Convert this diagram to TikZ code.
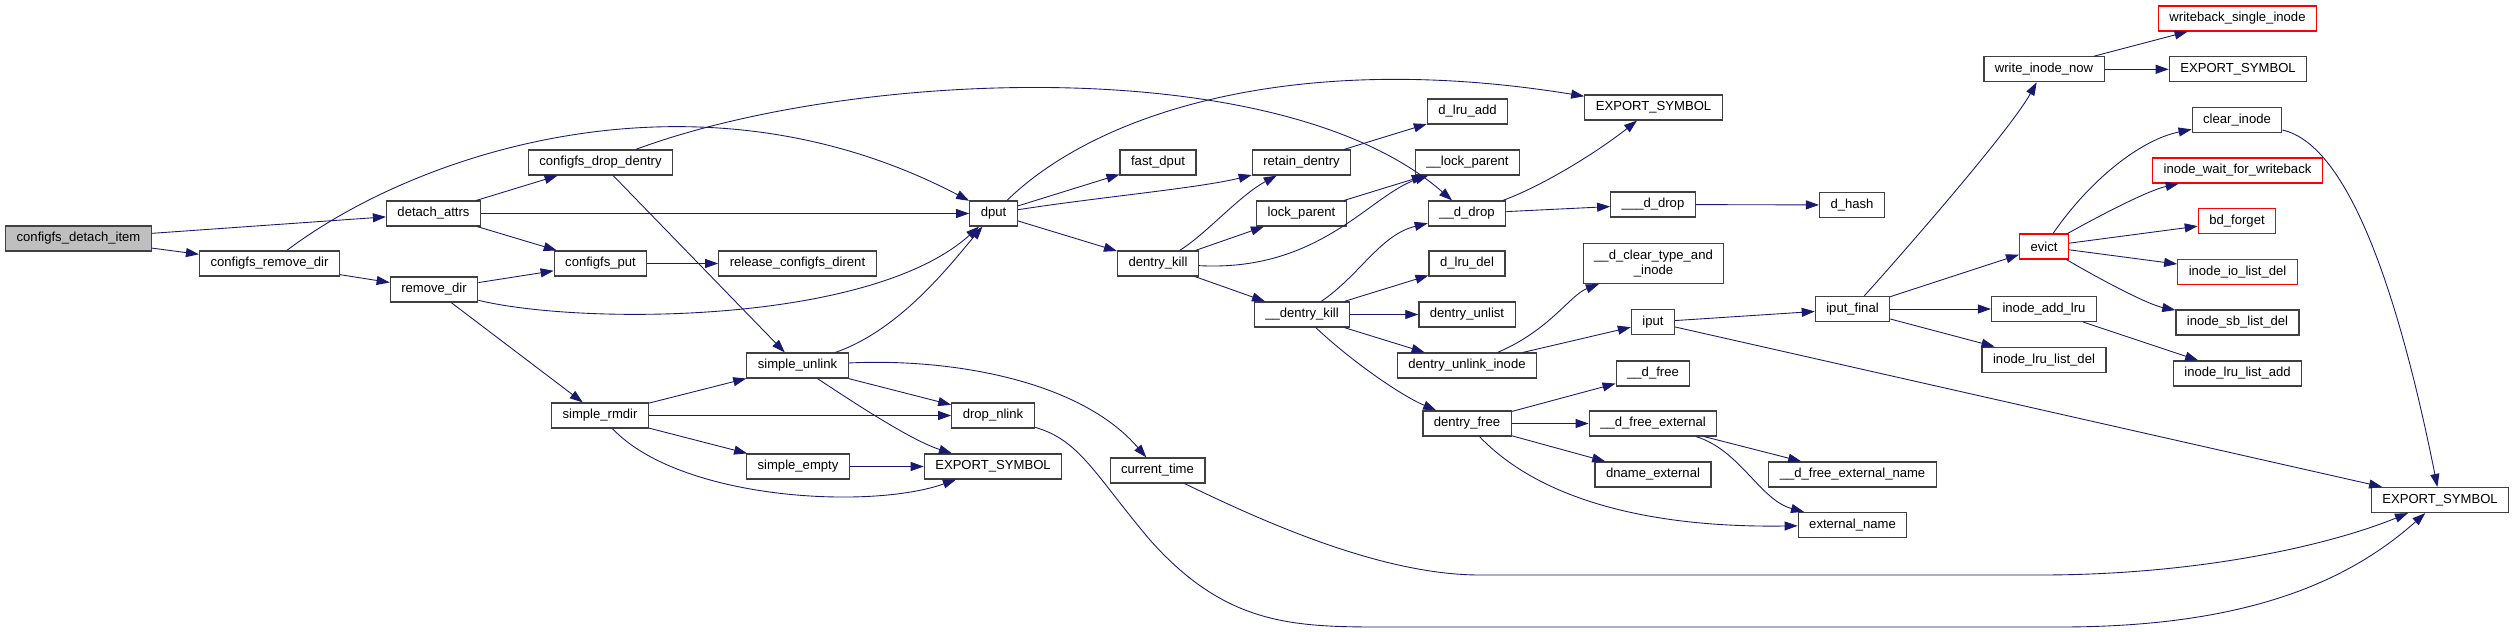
\documentclass[tikz,border=0pt]{standalone}
\usepackage{fontspec}
\setmainfont{Liberation Sans}
\usetikzlibrary{arrows.meta}
\definecolor{edgeblue}{RGB}{25,25,112}
\definecolor{boxgray}{RGB}{64,64,64}
\definecolor{rootfill}{RGB}{191,191,191}

\begin{document}
\begin{tikzpicture}[
  x=0.02cm,
  y=-0.02cm,
  font=\fontsize{7.45}{8.6}\selectfont,
  fn/.style={
    rectangle,
    draw=boxgray,
    fill=white,
    line width=0.7pt,
    inner xsep=0.22cm,
    inner ysep=0pt,
    minimum height=0.5cm
  },
  fnroot/.style={fn, fill=rootfill},
  fnext/.style={fn, draw=red},
  call/.style={
    draw=edgeblue,
    line width=0.5pt,
    -{Triangle[length=0.26cm,width=0.18cm]}
  }
]

\path[fill=white] (0,0) rectangle (2515,632);

% ---------------------------------------------------------------------------
% configfs side
% ---------------------------------------------------------------------------
\node[fnroot] (cdi)  at (78.5,238.5)  {configfs\_detach\_item};
\node[fn]     (crd)  at (269.5,263.5) {configfs\_remove\_dir};
\node[fn]     (da)   at (433.5,213.5) {detach\_attrs};
\node[fn]     (rd)   at (434,289.5)   {remove\_dir};
\node[fn]     (cdd)  at (600.5,162.5) {configfs\_drop\_dentry};
\node[fn]     (cput) at (600.5,263.5) {configfs\_put};
\node[fn]     (srm)  at (600,415.5)   {simple\_rmdir};
\node[fn]     (rcd)  at (797.5,263.5) {release\_configfs\_dirent};
\node[fn]     (sul)  at (797.5,365.5) {simple\_unlink};
\node[fn]     (sem)  at (798,466.5)   {simple\_empty};
\node[fn]     (dput) at (993.5,213.5) {dput};
\node[fn]     (dnl)  at (993,415.5)   {drop\_nlink};
\node[fn]     (es1)  at (993,466.5)   {EXPORT\_SYMBOL};

% ---------------------------------------------------------------------------
% dentry side
% ---------------------------------------------------------------------------
\node[fn] (fdp)  at (1158,162.5)   {fast\_dput};
\node[fn] (dk)   at (1158,263.5)   {dentry\_kill};
\node[fn] (ct)   at (1157.5,470.5) {current\_time};
\node[fn] (rtd)  at (1301.5,162.5) {retain\_dentry};
\node[fn] (lp)   at (1301.5,213.5) {lock\_parent};
\node[fn] (udk)  at (1302,314.5)   {\_\_dentry\_kill};
\node[fn] (dla)  at (1467.5,111.5) {d\_lru\_add};
\node[fn] (ulp)  at (1467.5,162.5) {\_\_lock\_parent};
\node[fn] (udd)  at (1467,213.5)   {\_\_d\_drop};
\node[fn] (dld)  at (1467,263.5)   {d\_lru\_del};
\node[fn] (dul)  at (1467,314.5)   {dentry\_unlist};
\node[fn] (duli) at (1467,365.5)   {dentry\_unlink\_inode};
\node[fn] (dfr)  at (1467,423.5)   {dentry\_free};
\node[fn] (es2)  at (1653.5,107.5) {EXPORT\_SYMBOL};
\node[fn] (uuud) at (1653,204.5)   {\_\_\_d\_drop};
\node[fn, align=center, minimum height=0.8cm] (dct) at (1653.5,263.5)
  {\_\_d\_clear\_type\_and\\\_inode};
\node[fn] (iput) at (1653,322)     {iput};
\node[fn] (udf)  at (1653,373.5)   {\_\_d\_free};
\node[fn] (udfe) at (1653,423.5)   {\_\_d\_free\_external};
\node[fn] (dne)  at (1653,474.5)   {dname\_external};

% ---------------------------------------------------------------------------
% inode side
% ---------------------------------------------------------------------------
\node[fn]    (dh)    at (1852,205)    {d\_hash};
\node[fn]    (ipf)   at (1852.5,309)  {iput\_final};
\node[fn]    (udfen) at (1852.5,474.5){\_\_d\_free\_external\_name};
\node[fn]    (exn)   at (1852.5,525)  {external\_name};
\node[fn]    (win)   at (2044,69.3)   {write\_inode\_now};
\node[fnext] (ev)    at (2044,246.5)  {evict};
\node[fn]    (ial)   at (2044,309)    {inode\_add\_lru};
\node[fn]    (ild)   at (2044,359.7)  {inode\_lru\_list\_del};
\node[fnext] (wsi)   at (2237.5,18.5) {writeback\_single\_inode};
\node[fn]    (es3)   at (2238,69.3)   {EXPORT\_SYMBOL};
\node[fn]    (ci)    at (2237,120)    {clear\_inode};
\node[fnext] (iwfw)  at (2237.5,170.5){inode\_wait\_for\_writeback};
\node[fnext] (bdf)   at (2237,221)    {bd\_forget};
\node[fnext] (iild)  at (2237.5,272)  {inode\_io\_list\_del};
\node[fn]    (isld)  at (2237.5,322.5){inode\_sb\_list\_del};
\node[fn]    (illa)  at (2237.5,373.5){inode\_lru\_list\_add};
\node[fn]    (es4)   at (2440,500)    {EXPORT\_SYMBOL};

% ---------------------------------------------------------------------------
% calls
% ---------------------------------------------------------------------------
\draw[call] (cdi) -- (da);
\draw[call] (cdi) -- (crd);
\draw[call] (crd) .. controls (420,150) and (700,60) .. (dput);
\draw[call] (crd) -- (rd);
\draw[call] (da) -- (cdd);
\draw[call] (da) -- (dput);
\draw[call] (da) -- (cput);
\draw[call] (rd) -- (cput);
\draw[call] (rd) .. controls (580,325) and (870,325) .. (dput);
\draw[call] (rd) -- (srm);
\draw[call] (cput) -- (rcd);
\draw[call] (cdd) .. controls (850,70) and (1280,50) .. (udd);
\draw[call] (cdd) -- (sul);
\draw[call] (srm) -- (sul);
\draw[call] (srm) -- (dnl);
\draw[call] (srm) -- (sem);
\draw[call] (srm) .. controls (680,500) and (870,510) .. (es1);
\draw[call] (sul) .. controls (900,330) and (950,265) .. (dput);
\draw[call] (sul) -- (dnl);
\draw[call] (sul) .. controls (850,400) and (910,440) .. (es1);
\draw[call] (sul) .. controls (950,358) and (1080,380) .. (ct);
\draw[call] (sem) -- (es1);
\draw[call] (dnl) .. controls (1080,440) and (1095,475) .. (1150,540)
  .. controls (1230,630) and (1300,627) .. (1400,627) -- (2060,627)
  .. controls (2250,627) and (2350,580) .. (es4);
\draw[call] (ct) .. controls (1260,520) and (1380,575) .. (1480,575)
  -- (2040,575) .. controls (2200,575) and (2330,545) .. (es4);

\draw[call] (dput) .. controls (1100,110) and (1300,50) .. (es2);
\draw[call] (dput) -- (fdp);
\draw[call] (dput) .. controls (1100,197) and (1200,188) .. (rtd);
\draw[call] (dput) -- (dk);
\draw[call] (dk) .. controls (1205,235) and (1240,195) .. (rtd);
\draw[call] (dk) -- (lp);
\draw[call] (dk) .. controls (1320,272) and (1370,195) .. (ulp);
\draw[call] (dk) -- (udk);
\draw[call] (rtd) -- (dla);
\draw[call] (lp) -- (ulp);
\draw[call] (udk) .. controls (1360,275) and (1380,235) .. (udd);
\draw[call] (udk) -- (dld);
\draw[call] (udk) -- (dul);
\draw[call] (udk) -- (duli);
\draw[call] (udk) .. controls (1350,360) and (1400,395) .. (dfr);
\draw[call] (udd) .. controls (1545,185) and (1600,150) .. (es2);
\draw[call] (udd) -- (uuud);
\draw[call] (uuud) -- (dh);
\draw[call] (duli) .. controls (1550,330) and (1570,295) .. (dct);
\draw[call] (duli) -- (iput);
\draw[call] (dfr) -- (udf);
\draw[call] (dfr) -- (udfe);
\draw[call] (dfr) -- (dne);
\draw[call] (dfr) .. controls (1540,500) and (1650,528) .. (exn);
\draw[call] (udfe) -- (udfen);
\draw[call] (udfe) .. controls (1740,450) and (1760,500) .. (exn);
\draw[call] (iput) -- (ipf);
\draw[call] (iput) -- (es4);

\draw[call] (ipf) .. controls (1910,245) and (2010,130) .. (win);
\draw[call] (ipf) -- (ev);
\draw[call] (ipf) -- (ial);
\draw[call] (ipf) -- (ild);
\draw[call] (win) -- (wsi);
\draw[call] (win) -- (es3);
\draw[call] (ev) .. controls (2090,180) and (2140,140) .. (ci);
\draw[call] (ev) .. controls (2110,210) and (2150,190) .. (iwfw);
\draw[call] (ev) -- (bdf);
\draw[call] (ev) -- (iild);
\draw[call] (ev) .. controls (2110,285) and (2150,305) .. (isld);
\draw[call] (ial) -- (illa);
\draw[call] (ci) .. controls (2350,145) and (2400,300) .. (es4);

\end{tikzpicture}
\end{document}
